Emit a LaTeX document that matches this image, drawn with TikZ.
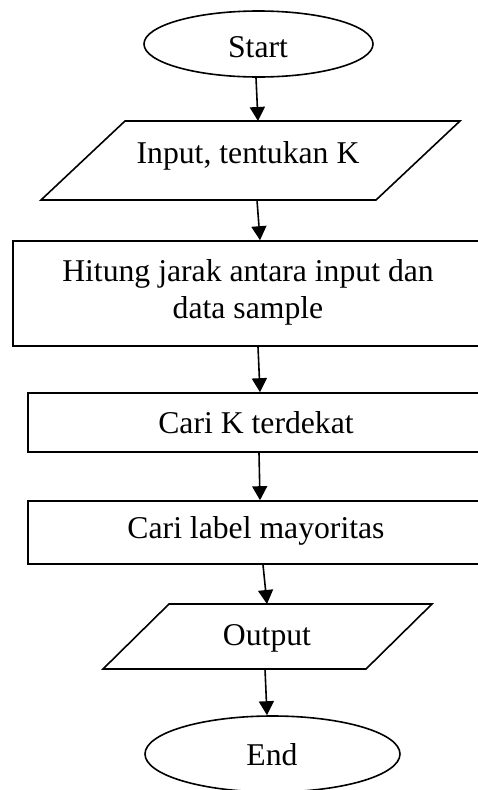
\documentclass[tikz,border=0pt]{standalone}
\usepackage{fontspec}
\setmainfont{Liberation Serif}
\usetikzlibrary{shapes.geometric,arrows.meta}

\tikzset{
  outline/.style={draw=black, line width=1.6pt},
  terminal/.style={outline, ellipse, inner sep=0pt},
  procbox/.style={outline, rectangle, inner sep=0pt},
  lbl/.style={anchor=base, inner sep=0pt, font=\fontsize{31.7}{37}\selectfont},
  flow/.style={line width=1.6pt, -{Triangle[length=14pt,width=15pt]}}
}

\begin{document}
\begin{tikzpicture}[x=1pt, y=-1pt]
\useasboundingbox (0,0) rectangle (477,790);

% terminals
\node[terminal, minimum width=229pt, minimum height=66pt] (start) at (258.5,44) {};
\node[lbl] (startT) at (258,57) {Start};

% input parallelogram
\draw[outline, line join=miter] (125,121) -- (460,121) -- (376,200) -- (41,200) -- cycle;
\coordinate (inTop) at (258,121);
\coordinate (inBot) at (257,200);
\node[lbl] (inT) at (248,163) {Input, tentukan K};

% distance computation
\node[procbox, minimum width=487pt, minimum height=105pt] (hit) at (256.5,293.5) {};
\node[lbl] (hitT1) at (248,281) {Hitung jarak antara input dan};
\node[lbl] (hitT2) at (248,318) {data sample};

% nearest neighbours
\node[procbox, minimum width=472pt, minimum height=59pt] (near) at (264,422.5) {};
\node[lbl] (nearT) at (256,433) {Cari K terdekat};

% majority label
\node[procbox, minimum width=472pt, minimum height=63pt] (maj) at (264,532.5) {};
\node[lbl] (majT) at (256,538) {Cari label mayoritas};

% output parallelogram
\draw[outline, line join=miter] (169,604) -- (432,604) -- (366,669) -- (103,669) -- cycle;
\coordinate (outTop) at (267,604);
\coordinate (outBot) at (265,669);
\node[lbl] (outT) at (267,645) {Output};

% end
\node[terminal, minimum width=255pt, minimum height=76pt] (end) at (272.5,754) {};
\node[lbl] (endT) at (272,765) {End};

% connectors
\draw[flow] ([xshift=-2.5pt]start.south) -- (inTop);
\draw[flow] (inBot) -- ([xshift=3.5pt]hit.north);
\draw[flow] ([xshift=1.5pt]hit.south) -- ([xshift=-4pt]near.north);
\draw[flow] ([xshift=-5pt]near.south) -- ([xshift=-4pt]maj.north);
\draw[flow] ([xshift=-1pt]maj.south) -- (outTop);
\draw[flow] (outBot) -- ([xshift=-5.5pt]end.north);
\end{tikzpicture}
\end{document}
